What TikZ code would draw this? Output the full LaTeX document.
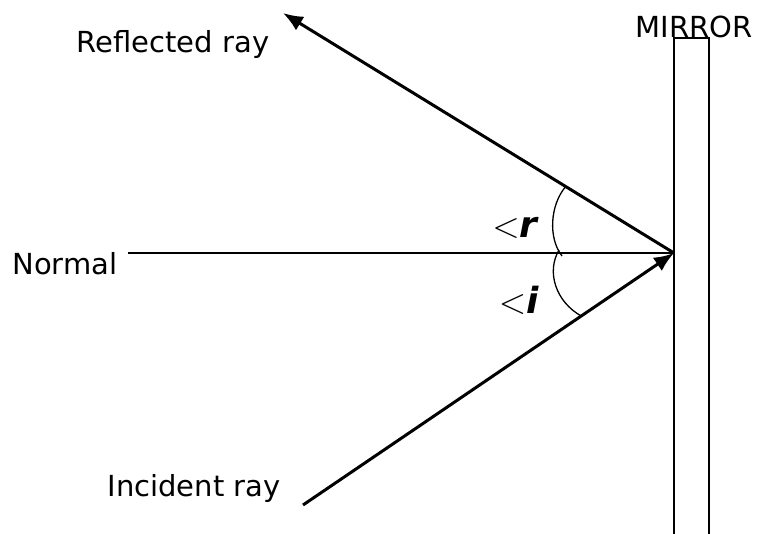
\RequirePackage{fix-cm}
\documentclass[tikz,border=0pt]{standalone}
\usepackage{amsmath}
\usepackage{fontspec}
\setmainfont{DejaVu Sans}
\usetikzlibrary{arrows.meta, calc}

\tikzset{
  lbl/.style={font=\fontsize{29}{34}\selectfont, inner sep=0pt, anchor=base},
  anglbl/.style={font=\fontsize{36}{42}\selectfont, inner sep=0pt, anchor=base},
  ray/.style={line width=3pt},
  normline/.style={line width=2.2pt},
  mirrorline/.style={line width=2pt},
  arcline/.style={line width=1.3pt}
}

\begin{document}
\begin{tikzpicture}[x=1pt,y=-1pt,>={Latex[length=20pt,width=16pt]}]

    \useasboundingbox (0,0) rectangle (760,533);

    % Points
    \coordinate (O) at (674,253);
    \coordinate (R) at (283,13);
    \coordinate (I) at (303,505);
    \coordinate (N) at (128,253);

    % Mirror
    \draw[mirrorline] (674,534) |- (709,38) -- (709,534);
    \node[lbl] (mirror) at (694,37) {MIRROR};

    % Normal
    \node[lbl] (normal) at (65,274) {Normal};
    \draw[normline] (N) -- (O);

    % Rays
    \draw[ray,->] (O) -- (R);
    \draw[ray,->] (I) -- (O);
    \node[lbl] (refl) at (173,52) {Reflected ray};
    \node[lbl] (inc) at (194,496) {Incident ray};

    % Angles
    \coordinate (Ar) at ($(O)!0.277!(R)$);
    \coordinate (Ai) at ($(O)!0.25!(I)$);
    \draw[arcline] (Ar) .. controls (550,205) and (548,238) .. (562,256);
    \draw[arcline] (559,250) .. controls (546,272) and (556,302) .. (Ai);
    \node[anglbl] (angr) at (516,237) {$<$\textbf{\textit{r}}};
    \node[anglbl] (angi) at (519,313) {$<$\textbf{\textit{i}}};

\end{tikzpicture}
\end{document}
